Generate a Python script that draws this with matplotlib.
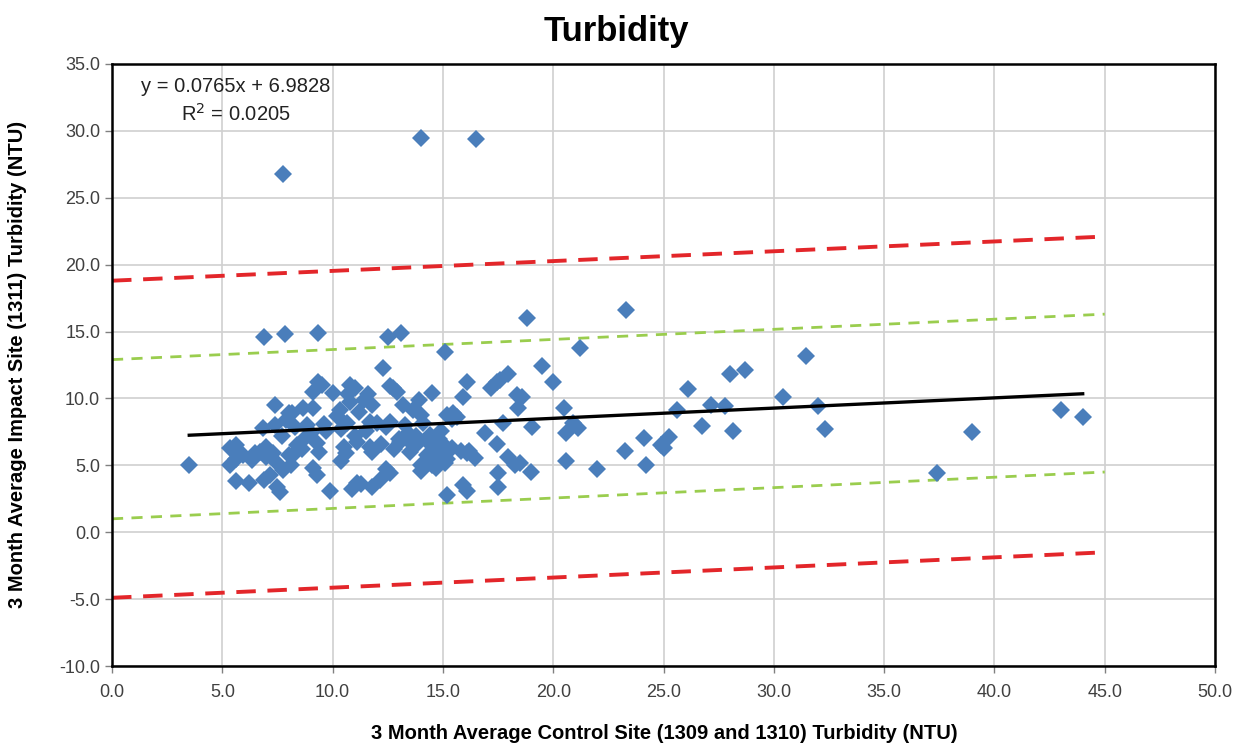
import matplotlib.pyplot as plt
import numpy as np

# 3 month averages: control site (x) vs impact site (y), NTU
control_x = [
    3.5, 7.75, 14.0, 16.5,
    6.9, 7.85, 9.35, 12.5, 13.1, 15.1, 18.8, 23.3, 21.2, 12.3, 19.5,
    5.35, 5.6, 5.35, 5.6, 5.6, 6.2, 5.95, 6.35, 6.7, 7.0, 6.85, 7.4, 7.9,
    7.15, 6.9, 7.5, 7.6, 7.75, 8.0, 7.5, 7.4, 8.0, 6.5, 7.3, 7.7, 7.0,
    8.4, 8.2, 9.3, 9.4, 9.1, 9.3, 9.9, 8.85, 9.0, 8.3, 8.65, 9.1, 8.15,
    9.35, 9.1, 10.0, 8.6, 9.6, 8.1, 8.8, 9.7, 9.5,
    10.5, 10.4, 11.1, 11.7, 11.8, 10.65, 11.7, 10.8, 10.7, 11.6, 10.8,
    11.8, 10.35, 11.4, 11.1, 10.9, 11.3, 11.8, 10.4, 11.0, 10.6, 11.5,
    10.2, 11.2, 11.0,
    12.6, 12.9, 12.75, 12.6, 13.4, 13.05, 13.5, 14.0, 12.6, 12.15, 12.4,
    13.65, 14.0, 12.0, 13.3, 13.0, 13.8, 12.4, 12.2, 13.2, 13.9, 12.8, 13.6,
    14.5, 14.55, 14.7, 14.9, 15.2, 14.3, 14.5, 14.2, 14.0, 14.8, 15.0,
    14.4, 13.8, 15.4, 15.1, 14.6, 15.45, 15.2, 15.4, 15.65, 15.9, 16.1,
    15.2, 15.9, 16.1, 16.1, 16.45, 14.3, 14.9, 14.1, 15.8, 14.7,
    16.9, 17.45, 17.7, 17.2, 17.45, 17.6, 17.95, 18.35, 18.6, 18.4, 19.05,
    17.95, 18.25, 19.0, 17.5, 17.5, 18.5, 20.0, 16.2,
    20.5, 20.6, 20.9, 21.1, 20.6, 22.0, 23.25, 24.1, 24.2, 25.0, 25.25,
    24.9, 25.6, 26.1, 26.75, 27.15, 27.8, 28.15, 28.0, 28.7, 30.4, 31.45,
    32.0, 32.3, 37.4, 39.0, 43.0, 44.0,
]
impact_y = [
    5.0, 26.8, 29.5, 29.4,
    14.6, 14.8, 14.9, 14.6, 14.9, 13.5, 16.0, 16.6, 13.8, 12.3, 12.4,
    6.3, 6.5, 5.0, 5.5, 3.8, 3.7, 5.8, 5.4, 6.0, 6.4, 7.8, 8.0, 8.4,
    4.3, 3.9, 3.4, 3.0, 4.65, 5.8, 5.2, 9.5, 8.9, 5.9, 5.9, 7.2, 5.6,
    6.5, 5.8, 6.7, 6.0, 4.8, 4.3, 3.1, 8.0, 7.4, 7.9, 9.3, 9.3, 8.9,
    11.2, 10.5, 10.4, 6.2, 8.1, 5.0, 7.1, 7.6, 11.0,
    6.4, 5.3, 6.75, 6.4, 6.0, 8.2, 8.25, 11.0, 10.3, 10.3, 9.7,
    9.5, 9.1, 9.9, 3.7, 3.2, 3.6, 3.4, 7.7, 7.2, 5.9, 7.6,
    8.7, 9.0, 10.8,
    10.9, 10.5, 10.8, 8.25, 7.4, 6.75, 6.0, 5.0, 4.4, 3.9, 7.9,
    9.1, 8.75, 8.2, 8.0, 7.0, 7.2, 4.7, 6.6, 9.5, 9.9, 6.2, 6.6,
    10.4, 6.5, 6.2, 6.0, 5.5, 5.8, 5.0, 5.0, 4.6, 7.0, 6.6,
    7.3, 6.5, 6.3, 5.2, 5.5, 8.9, 8.75, 8.5, 8.6, 10.1, 11.2,
    2.8, 3.5, 3.1, 5.9, 5.55, 6.8, 7.6, 8.2, 6.1, 4.8,
    7.4, 6.6, 8.2, 10.8, 11.2, 11.4, 11.8, 10.25, 10.1, 9.3, 7.9,
    5.6, 5.0, 4.5, 4.4, 3.4, 5.2, 11.2, 6.1,
    9.3, 7.4, 8.2, 7.8, 5.3, 4.7, 6.1, 7.05, 5.0, 6.3, 7.1,
    6.5, 9.1, 10.7, 7.95, 9.5, 9.4, 7.6, 11.8, 12.1, 10.1, 13.2,
    9.4, 7.7, 4.4, 7.5, 9.1, 8.6,
]

# trendline from the fitted equation
slope = 0.0765
intercept = 6.9828
r_squared = 0.0205

# limit lines (end points at x = 0 and x = 45)
band_x = [0.0, 45.0]
red_upper = [18.8, 22.1]
red_lower = [-4.9, -1.5]
green_upper = [12.9, 16.3]
green_lower = [1.0, 4.5]

x_ticks = np.arange(0, 50.1, 5)
y_ticks = np.arange(-10, 35.1, 5)

plt.rcParams['font.family'] = ['Liberation Sans', 'DejaVu Sans']

fig = plt.figure(figsize=(12.56, 7.49), dpi=100)
ax = fig.add_axes([0.0892, 0.1108, 0.8782, 0.8038])

ax.plot(band_x, red_upper, color='#E3262A', lw=2.8, dashes=(5, 3), zorder=2)
ax.plot(band_x, red_lower, color='#E3262A', lw=2.8, dashes=(5, 3), zorder=2)
ax.plot(band_x, green_upper, color='#9ACD4E', lw=2.0, dashes=(4, 3), zorder=2)
ax.plot(band_x, green_lower, color='#9ACD4E', lw=2.0, dashes=(4, 3), zorder=2)

ax.plot(control_x, impact_y, linestyle='none', marker='D', markersize=9,
        color='#4A7EBB', markeredgewidth=0, zorder=3)

line_x = np.array([min(control_x), max(control_x)])
ax.plot(line_x, slope * line_x + intercept, color='black', lw=2.4, zorder=4)

ax.text(5.6, 33.35, 'y = %.4fx + %.4f' % (slope, intercept), ha='center', va='center',
        fontsize=14.5, color='#222222')
ax.text(5.6, 31.3, 'R$^2$ = %.4f' % r_squared, ha='center', va='center',
        fontsize=14.5, color='#222222')

ax.set_xlim(0, 50)
ax.set_ylim(-10, 35)
ax.set_xticks(x_ticks)
ax.set_yticks(y_ticks)
ax.set_xticklabels(['%.1f' % v for v in x_ticks], fontsize=13, color='#404040')
ax.set_yticklabels(['%.1f' % v for v in y_ticks], fontsize=13, color='#404040')
ax.tick_params(axis='both', length=5, color='#808080', width=1)
ax.tick_params(axis='x', pad=8)
ax.grid(True, color='#D0D0D0', lw=1.2)
ax.set_axisbelow(True)
for s in ax.spines.values():
    s.set_color('black')
    s.set_linewidth(1.8)

fig.text(0.491, 0.958, 'Turbidity', ha='center', va='center', fontsize=25,
         fontweight='bold')
fig.text(0.529, 0.021, '3 Month Average Control Site (1309 and 1310) Turbidity (NTU)',
         ha='center', va='center', fontsize=14.5, fontweight='bold')
fig.text(0.0143, 0.513, '3 Month Average Impact Site (1311) Turbidity (NTU)',
         ha='center', va='center', rotation=90, fontsize=14.5, fontweight='bold')

fig.savefig('out.png', dpi=100)
